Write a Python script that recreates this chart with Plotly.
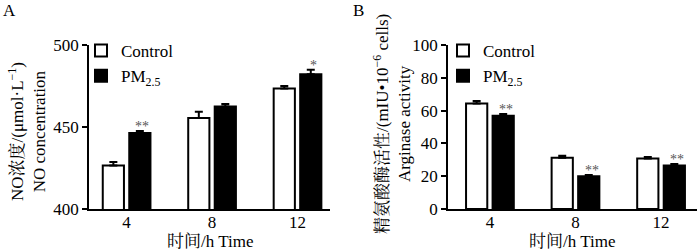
import plotly.graph_objects as go

# ---- data ----
times = ["4", "8", "12"]
no_control = [426.5, 455.5, 473.5]
no_control_err = [2.2, 3.8, 1.5]
no_pm = [446.3, 462.5, 482.2]
no_pm_err = [1.2, 1.6, 2.7]
no_sig = ["**", "", "*"]

arg_control = [64.3, 31.3, 30.8]
arg_control_err = [1.5, 1.1, 0.9]
arg_pm = [56.9, 19.9, 26.6]
arg_pm_err = [1.0, 0.8, 0.8]
arg_sig = ["**", "**", "**"]

no_ticks = [400, 450, 500]
arg_ticks = [0, 20, 40, 60, 80, 100]

FONT = "Liberation Serif, Noto Serif CJK SC, Noto Sans CJK SC, serif"
W, H = 700, 250


def px_x(p):
    return p / W


def px_y(p):
    return 1 - p / H


fig = go.Figure()


def add_bars(xa, ya, ctrl, ctrl_err, pm, pm_err, legend):
    fig.add_trace(go.Bar(
        x=times, y=ctrl, name="Control", xaxis=xa, yaxis=ya,
        marker=dict(color="white", line=dict(color="black", width=2)),
        error_y=dict(type="data", array=ctrl_err, arrayminus=[0] * len(ctrl_err),
                     symmetric=False, color="black", thickness=2, width=4),
        legend=legend,
    ))
    fig.add_trace(go.Bar(
        x=times, y=pm, name="PM<sub>2.5</sub>", xaxis=xa, yaxis=ya,
        marker=dict(color="black", line=dict(color="black", width=2)),
        error_y=dict(type="data", array=pm_err, arrayminus=[0] * len(pm_err),
                     symmetric=False, color="black", thickness=2, width=4),
        legend=legend,
    ))


add_bars("x", "y", no_control, no_control_err, no_pm, no_pm_err, "legend")
add_bars("x2", "y2", arg_control, arg_control_err, arg_pm, arg_pm_err, "legend2")

axis_common = dict(
    showline=True, linecolor="black", linewidth=1.5, showgrid=False,
    zeroline=False, automargin=False,
    tickfont=dict(family=FONT, size=17, color="black"),
)

annotations = []
# significance stars (x given as category index)
for xr, yr, vals, errs, sigs, shift in [
    ("x", "y", no_pm, no_pm_err, no_sig, 15.75),
    ("x2", "y2", arg_pm, arg_pm_err, arg_sig, 16.4),
]:
    for i, (v, e, s) in enumerate(zip(vals, errs, sigs)):
        if s:
            annotations.append(dict(
                x=i, y=v + e, xref=xr, yref=yr, text=s, showarrow=False,
                xshift=shift, yshift=-5, xanchor="center", yanchor="bottom",
                font=dict(family=FONT, size=14, color="#555555"),
            ))

# y-axis titles
annotations.append(dict(
    x=px_x(27), y=px_y(132), xref="paper", yref="paper", textangle=-90,
    xanchor="center", yanchor="middle",
    text="NO浓度/(μmol·L<sup>−1</sup>)<br>NO concentration", showarrow=False,
    font=dict(family=FONT, size=17, color="black"), align="center",
))
annotations.append(dict(
    x=px_x(392), y=px_y(124), xref="paper", yref="paper", textangle=-90,
    xanchor="center", yanchor="middle",
    text="精氨酸酶活性/(mIU•10<sup>−6</sup> cells)<br>Arginase activity", showarrow=False,
    font=dict(family=FONT, size=17, color="black"), align="center",
))
# x-axis titles
for cx in [210, 572]:
    annotations.append(dict(
        x=px_x(cx), y=px_y(241), xref="paper", yref="paper",
        xanchor="center", yanchor="middle",
        text="时间/h Time", showarrow=False,
        font=dict(family=FONT, size=17, color="black"),
    ))
# panel labels
annotations.append(dict(x=px_x(1), y=px_y(10), xref="paper", yref="paper", text="A",
                        showarrow=False, xanchor="left", yanchor="middle",
                        font=dict(family=FONT, size=17, color="black")))
annotations.append(dict(x=px_x(351), y=px_y(10), xref="paper", yref="paper", text="B",
                        showarrow=False, xanchor="left", yanchor="middle",
                        font=dict(family=FONT, size=17, color="black")))

leg_common = dict(
    font=dict(family=FONT, size=17, color="black"), bgcolor="rgba(0,0,0,0)",
    xanchor="left", yanchor="top", tracegroupgap=0, itemsizing="constant",
)

fig.update_layout(
    template="none",
    font=dict(family=FONT, size=17, color="black"),
    width=W, height=H, margin=dict(l=0, r=0, t=0, b=0, autoexpand=False),
    paper_bgcolor="white", plot_bgcolor="white",
    barmode="group", bargap=0.38, bargroupgap=0.2,
    xaxis=dict(domain=[px_x(89), px_x(330)], range=[-0.44, 2.38], anchor="y",
               ticks="", type="category", ticklabelstandoff=-3, **axis_common),
    yaxis=dict(domain=[px_y(209), px_y(45)], range=[400, 500], anchor="x",
               tickvals=no_ticks, ticks="outside", ticklen=5, tickwidth=1.5,
               tickcolor="black", **axis_common),
    xaxis2=dict(domain=[px_x(448), px_x(697)], range=[-0.49, 2.42], anchor="y2",
                ticks="", type="category", ticklabelstandoff=-3, **axis_common),
    yaxis2=dict(domain=[px_y(209), px_y(45)], range=[0, 100], anchor="x2",
                tickvals=arg_ticks, ticks="outside", ticklen=5, tickwidth=1.5,
                tickcolor="black", **axis_common),
    legend=dict(x=px_x(81), y=px_y(33), **leg_common),
    legend2=dict(x=px_x(443), y=px_y(33), **leg_common),
    annotations=annotations,
)

fig.write_html("out.html", config={"displayModeBar": False},
               post_script="document.body.style.margin='0';")
